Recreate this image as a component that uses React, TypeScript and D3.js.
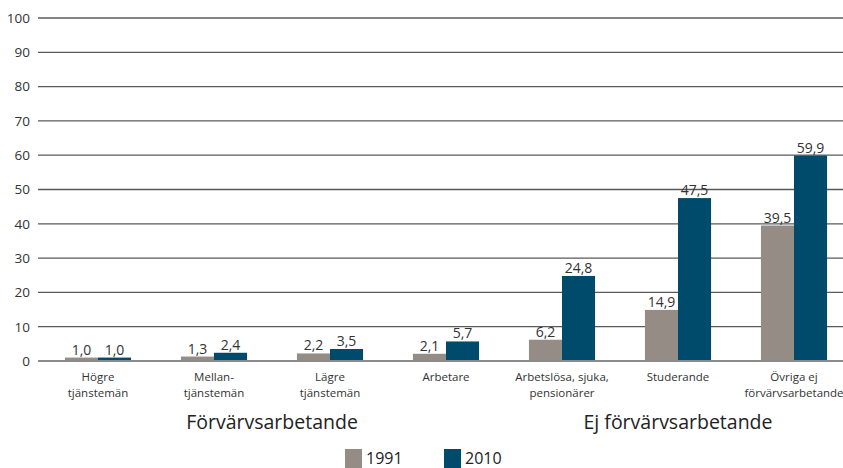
import React, { useRef, useEffect } from "react";
import * as d3 from "d3";

const categories = [
  ["Högre", "tjänstemän"],
  ["Mellan-", "tjänstemän"],
  ["Lägre", "tjänstemän"],
  ["Arbetare"],
  ["Arbetslösa, sjuka,", "pensionärer"],
  ["Studerande"],
  ["Övriga ej", "förvärvsarbetande"],
];
const values1991 = [1.0, 1.3, 2.2, 2.1, 6.2, 14.9, 39.5];
const values2010 = [1.0, 2.4, 3.5, 5.7, 24.8, 47.5, 59.9];
const seriesNames = ["1991", "2010"];
const groups = [
  { label: "Förvärvsarbetande", from: 0, to: 3 },
  { label: "Ej förvärvsarbetande", from: 4, to: 6 },
];
const yTicks = [0, 10, 20, 30, 40, 50, 60, 70, 80, 90, 100];

const colors = ["#968c86", "#004b6c"];
const font = "'Open Sans', 'Noto Sans', sans-serif";

const App: React.FC = () => {
  const ref = useRef<SVGSVGElement>(null);

  useEffect(() => {
    const svg = d3.select(ref.current);
    svg.selectChildren().remove();

    const width = 843;

    const x = d3
      .scaleBand<number>()
      .domain(categories.map((_, i) => i))
      .range([40, 852])
      .paddingInner(0.43)
      .paddingOuter(0.215);
    const sub = d3
      .scaleBand<number>()
      .domain([0, 1])
      .range([0, x.bandwidth()]);
    const y = d3.scaleLinear().domain([0, 100]).range([361, 18]);

    // gridlines
    svg
      .append("g")
      .selectAll("line")
      .data(yTicks.filter((t) => t > 0))
      .join("line")
      .attr("x1", 38)
      .attr("x2", width)
      .attr("y1", (d) => y(d))
      .attr("y2", (d) => y(d))
      .attr("stroke", "#5a5a5a")
      .attr("stroke-width", 1.3);

    // y labels
    svg
      .append("g")
      .selectAll("text")
      .data(yTicks)
      .join("text")
      .attr("x", 30)
      .attr("y", (d) => y(d))
      .attr("dy", "0.36em")
      .attr("text-anchor", "end")
      .attr("font-family", font)
      .attr("font-size", 13.5)
      .attr("fill", "#333")
      .text((d) => d);

    // bars
    const series = [values1991, values2010];
    series.forEach((vals, s) => {
      const g = svg.append("g");
      g.selectAll("rect")
        .data(vals)
        .join("rect")
        .attr("x", (_, i) => (x(i) as number) + (sub(s) as number))
        .attr("y", (d) => y(d))
        .attr("width", sub.bandwidth())
        .attr("height", (d) => y(0) - y(d))
        .attr("fill", colors[s]);
      g.selectAll("text")
        .data(vals)
        .join("text")
        .attr("x", (_, i) => (x(i) as number) + (sub(s) as number) + sub.bandwidth() / 2)
        .attr("y", (d) => y(d) - 3)
        .attr("text-anchor", "middle")
        .attr("font-family", font)
        .attr("font-size", 14)
        .attr("fill", "#333")
        .text((d) => d.toFixed(1).replace(".", ","));
    });

    // zero line
    svg
      .append("line")
      .attr("x1", 38)
      .attr("x2", width)
      .attr("y1", y(0))
      .attr("y2", y(0))
      .attr("stroke", "#8c8c8c")
      .attr("stroke-width", 2.2);

    // category labels
    const cat = svg
      .append("g")
      .selectAll("text")
      .data(categories)
      .join("text")
      .attr("x", (_, i) => (x(i) as number) + x.bandwidth() / 2)
      .attr("y", 381)
      .attr("text-anchor", "middle")
      .attr("font-family", font)
      .attr("font-size", 11.5)
      .attr("fill", "#333");
    cat
      .selectAll("tspan")
      .data((d) => d)
      .join("tspan")
      .attr("x", function () {
        return (this.parentNode as SVGTextElement).getAttribute("x");
      })
      .attr("dy", (_, i) => (i === 0 ? 0 : 16))
      .text((d) => d);

    // group labels
    svg
      .append("g")
      .selectAll("text")
      .data(groups)
      .join("text")
      .attr(
        "x",
        (d) =>
          ((x(d.from) as number) + (x(d.to) as number) + x.bandwidth()) / 2
      )
      .attr("y", 429)
      .attr("text-anchor", "middle")
      .attr("font-family", font)
      .attr("font-size", 19.5)
      .attr("fill", "#222")
      .text((d) => d.label);

    // legend
    const legendX = [345, 444];
    const leg = svg
      .append("g")
      .selectAll("g")
      .data(seriesNames)
      .join("g")
      .attr("transform", (_, i) => `translate(${legendX[i]},449)`);
    leg
      .append("rect")
      .attr("width", 17)
      .attr("height", 19)
      .attr("fill", (_, i) => colors[i]);
    leg
      .append("text")
      .attr("x", 21)
      .attr("y", 15)
      .attr("font-family", font)
      .attr("font-size", 16)
      .attr("fill", "#222")
      .text((d) => d);
  }, []);

  return (
    <svg
      ref={ref}
      width={843}
      height={468}
      style={{ position: "absolute", left: 0, top: 0 }}
    />
  );
};

export default App;
